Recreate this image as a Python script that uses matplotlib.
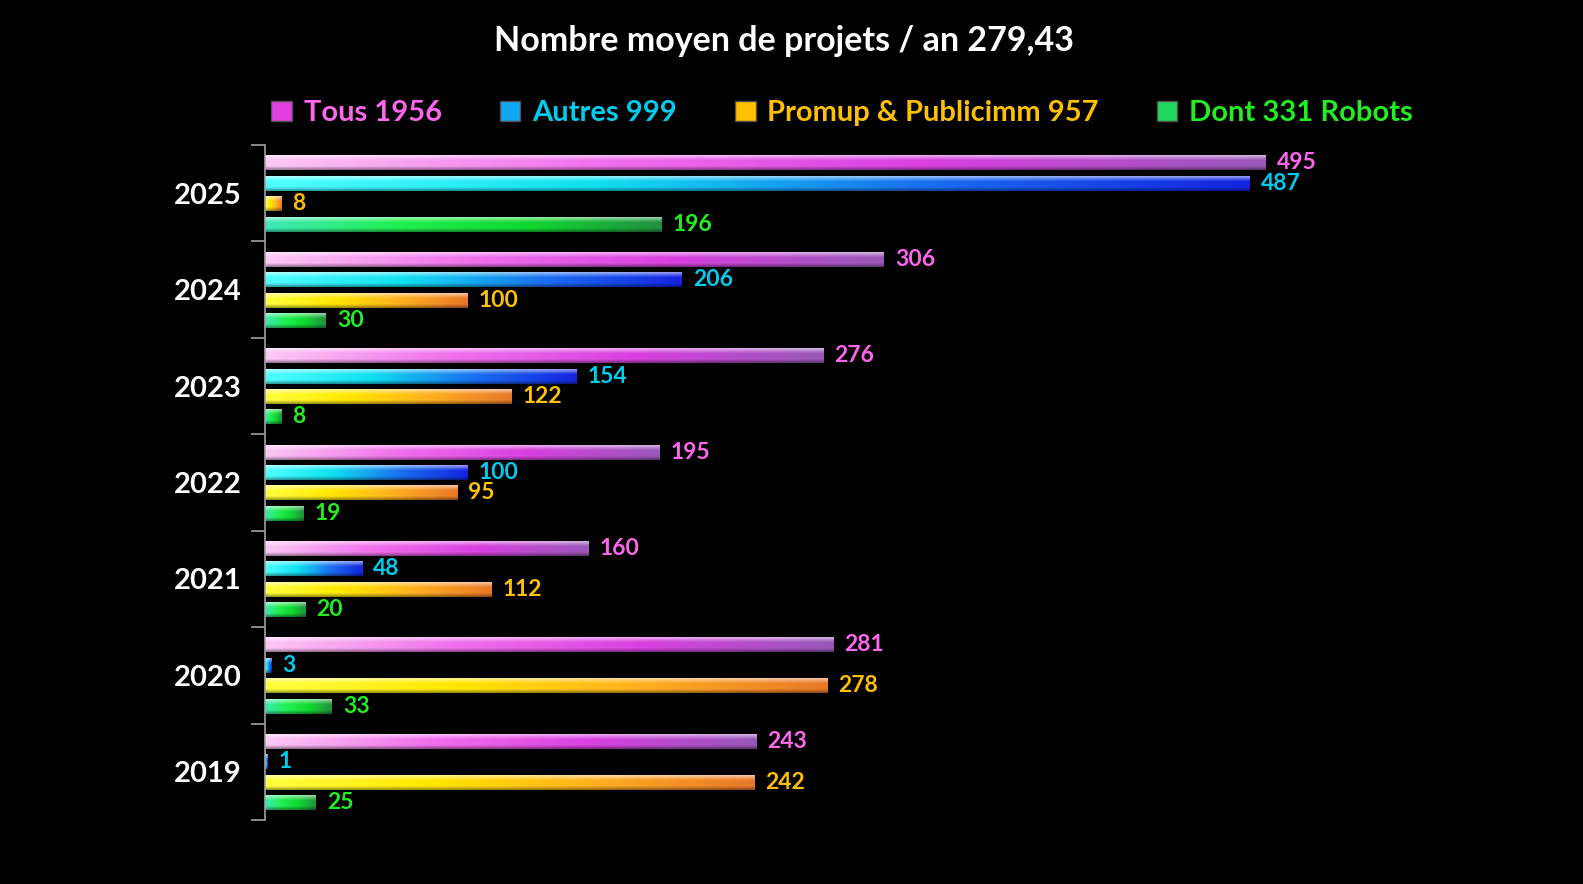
import numpy as np
import matplotlib.pyplot as plt
from matplotlib.colors import LinearSegmentedColormap
from matplotlib.patches import Patch

# Data (top to bottom)
years = ['2025', '2024', '2023', '2022', '2021', '2020', '2019']
tous = [495, 306, 276, 195, 160, 281, 243]
autres = [487, 206, 154, 100, 48, 3, 1]
promup = [8, 100, 122, 95, 112, 278, 242]
robots = [196, 30, 8, 19, 20, 33, 25]

series = [tous, autres, promup, robots]
legend_labels = ['Tous 1956', 'Autres 999', 'Promup & Publicimm 957', 'Dont 331 Robots']
text_colors = ['#ff66ee', '#00ccee', '#ffc000', '#22ee22']
grad_colors = [
    ['#fcc8f4', '#f070ec', '#d840e0', '#9858b8'],
    ['#50ffff', '#10e0f0', '#1a70f0', '#1424e0'],
    ['#ffff40', '#ffe800', '#ffb020', '#e87828'],
    ['#40e8b8', '#20f050', '#10d830', '#209040'],
]
legend_face = ['#e040e0', '#10a8f0', '#ffc000', '#20d860']

font = 'Lato'
plt.rcParams['font.family'] = [font, 'DejaVu Sans']

fig = plt.figure(figsize=(15.83, 8.84), dpi=100, facecolor='black')
ax = fig.add_axes([265 / 1583, 1 - 820 / 884, (1420 - 265) / 1583, (820 - 145) / 884])
ax.set_facecolor('black')

xmax = (1420 - 265) / 2.022
offsets = [-0.315, -0.103, 0.108, 0.32]
h = 0.155

# vertical shading profile
nrow = 20
rows = np.linspace(0, 1, nrow)
whiten = np.clip(0.55 - rows * 1.6, 0, None)
darken = np.where(rows > 0.75, 1 - (rows - 0.75) * 1.6, 1.0)

for s, vals in enumerate(series):
    cmap = LinearSegmentedColormap.from_list('g%d' % s, grad_colors[s])
    base = cmap(np.linspace(0, 1, 200))[:, :3]
    img = base[None, :, :] * (1 - whiten[:, None, None]) + whiten[:, None, None]
    img = img * darken[:, None, None]
    for i, v in enumerate(vals):
        y = i + offsets[s]
        ax.imshow(img, extent=[0, v, y + h / 2, y - h / 2], aspect='auto',
                  interpolation='bilinear', zorder=2)
        ax.text(v + 5.5, y, str(v), color=text_colors[s], fontsize=16.5,
                fontweight='bold', va='center', ha='left', zorder=3)

ax.set_xlim(0, xmax)
ax.set_ylim(6.5, -0.5)
ax.set_xticks([])
ax.set_yticks(np.arange(-0.5, 7, 1))
ax.set_yticklabels([])
ax.set_yticks(range(7), minor=True)
ax.set_yticklabels(years, minor=True, color='white', fontsize=21, fontweight='bold')
ax.tick_params(axis='y', which='major', length=10, color='#a0a0a0', width=1.2)
ax.tick_params(axis='y', which='minor', length=0, pad=17)
for side in ['top', 'right', 'bottom']:
    ax.spines[side].set_visible(False)
ax.spines['left'].set_color('#a0a0a0')
ax.spines['left'].set_linewidth(1.2)

fig.text(0.495, 1 - 41 / 884, 'Nombre moyen de projets / an 279,43', color='white',
         fontsize=24.5, fontweight='bold', ha='center', va='center')

handles = [Patch(facecolor=legend_face[k], edgecolor='#505050') for k in range(4)]
leg = fig.legend(handles, legend_labels, loc='center', bbox_to_anchor=(0.532, 1 - 113 / 884),
                 ncol=4, frameon=False, handlelength=0.7, handleheight=0.7,
                 handletextpad=0.4, columnspacing=2.0,
                 prop={'family': [font, 'DejaVu Sans'], 'weight': 'bold', 'size': 21})
for t, c in zip(leg.get_texts(), text_colors):
    t.set_color(c)

fig.savefig('out.png', dpi=100, facecolor='black')
